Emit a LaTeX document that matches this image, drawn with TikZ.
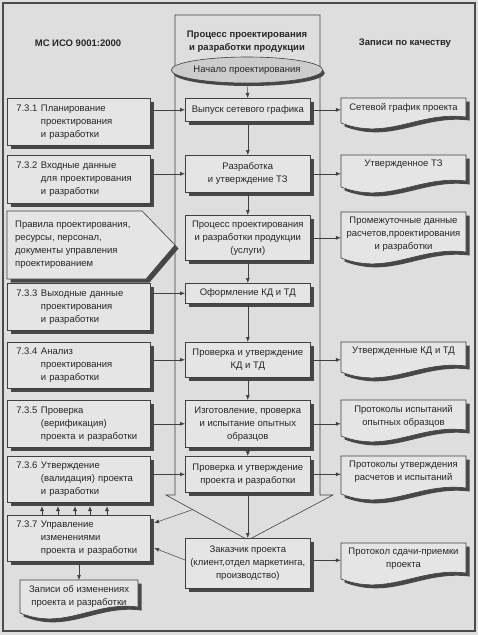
\documentclass[tikz,border=0pt]{standalone}
\usepackage{fontspec}
\setmainfont{Liberation Sans}
\usetikzlibrary{shadows,calc,arrows.meta,shapes.geometric}
\definecolor{bgc}{gray}{0.87}
\definecolor{boxc}{gray}{0.90}
\definecolor{linec}{gray}{0.25}
\newcommand\hangtxt[4]{\begin{tabular}{@{}l@{\hspace{3.5pt}}l@{}}#1&#2\\&#3\\&#4\end{tabular}}
\newcommand\docpath[4]{%
  \path[docst] (#1,#2) -- ({#1+#3},#2) -- ({#1+#3},{#2+#4-6}) .. controls ({#1+0.62*#3},{#2+#4-12}) and ({#1+0.38*#3},{#2+#4+18}) .. (#1,{#2+#4}) -- cycle;}
\tikzset{
  every node/.style={font=\fontsize{9.5}{13}\selectfont, text=black!85},
  sh/.style={drop shadow={shadow xshift=3.5pt, shadow yshift=-3.5pt, fill=black!72, opacity=1}},
  lbox/.style={draw=linec, line width=0.6pt, fill=boxc, sh, anchor=north west,
    text width=125pt, inner xsep=9pt, inner ysep=2pt, align=left},
  cbox/.style={draw=linec, line width=0.6pt, fill=boxc, sh, anchor=north west,
    minimum width=125pt, inner sep=2pt, align=center},
  docst/.style={draw=linec, line width=0.6pt, fill=boxc, sh},
  doctxt/.style={anchor=north, minimum width=125pt, inner xsep=2pt, inner ysep=5pt, align=center},
  hdr/.style={font=\fontsize{9.5}{13}\selectfont\bfseries, align=center},
  arr/.style={draw=linec, line width=0.5pt, -{Latex[length=5pt,width=4pt]}},
}
\begin{document}
\begin{tikzpicture}[x=1pt,y=-1pt]
\useasboundingbox (0,0) rectangle (478,635);
\fill[bgc] (0,0) rectangle (478,635);
\draw[line width=1.2pt, black!70] (3,3) rectangle (475,631);

% big column arrow
\draw[linec, line width=0.6pt] (175,15) -- (175,495) -- (166,495) -- (248,540) -- (333,495) -- (320,495) -- (320,15) -- cycle;
\coordinate (diag) at (193,509.5);

% headers
\node[hdr] (h1) at (78,43) {МС ИСО 9001:2000};
\node[hdr] (h2) at (247,42) {Процесс проектирования\\и разработки продукции};
\node[hdr] (h3) at (405,43) {Записи по качеству};

% start ellipse
\node[ellipse, draw=linec, line width=0.6pt, fill=black!20,
  drop shadow={shadow xshift=2pt, shadow yshift=-3pt, fill=black!72, opacity=1},
  minimum width=143pt, minimum height=26pt, inner sep=0pt] (start) at (247,70) {Начало проектирования};

% left column
\node[lbox, minimum height=47pt] (l1) at (7,98) {\hangtxt{7.3.1}{Планирование}{проектирования}{и разработки}};
\node[lbox, minimum height=48pt] (l2) at (7,155) {\hangtxt{7.3.2}{Входные данные}{для проектирования}{и разработки}};
\path[draw=linec, line width=0.6pt, fill=boxc, sh] (7,211) -- (142,211) -- (175,245) -- (146,279) -- (7,279) -- cycle;
\node[anchor=west, align=left, inner sep=0pt] (rules) at (15,245) {Правила проектирования,\\ресурсы, персонал,\\документы управления\\проектированием};
\node[lbox, minimum height=47pt] (l3) at (7,283) {\hangtxt{7.3.3}{Выходные данные}{проектирования}{и разработки}};
\node[lbox, minimum height=46pt] (l4) at (7,342) {\hangtxt{7.3.4}{Анализ}{проектирования}{и разработки}};
\node[lbox, minimum height=47pt] (l5) at (7,400) {\hangtxt{7.3.5}{Проверка}{(верификация)}{проекта и разработки}};
\node[lbox, minimum height=46pt] (l6) at (7,456) {\hangtxt{7.3.6}{Утверждение}{(валидация) проекта}{и разработки}};
\node[lbox, minimum height=46pt] (l7) at (7,515) {\hangtxt{7.3.7}{Управление}{изменениями}{проекта и разработки}};
\docpath{20}{580}{118}{33}
\node[doctxt, minimum width=118pt] (ld) at (79,580) {Записи об изменениях\\проекта и разработки};

% center column
\node[cbox, minimum height=23pt] (c1) at (185,98) {Выпуск сетевого графика};
\node[cbox, minimum height=37pt] (c2) at (185,155) {Разработка\\и утверждение ТЗ};
\node[cbox, minimum height=45pt] (c3) at (185,215) {Процесс проектирования\\и разработки продукции\\(услуги)};
\node[cbox, minimum height=20pt] (c4) at (185,283) {Оформление КД и ТД};
\node[cbox, minimum height=35pt] (c5) at (185,342) {Проверка и утверждение\\КД и ТД};
\node[cbox, minimum height=47pt] (c6) at (185,400) {Изготовление, проверка\\и испытание опытных\\образцов};
\node[cbox, minimum height=36pt] (c7) at (185,456) {Проверка и утверждение\\проекта и разработки};
\node[cbox, minimum height=50pt] (c8) at (185,538) {Заказчик проекта\\(клиент,отдел маркетинга,\\производство)};

% right column documents
\docpath{341}{98}{125}{25}
\node[doctxt] (r1) at (403.5,98) {Сетевой график проекта};
\docpath{341}{155}{125}{32}
\node[doctxt] (r2) at (403.5,155) {Утвержденное ТЗ};
\docpath{341}{212}{125}{46}
\node[doctxt] (r3) at (403.5,212) {Промежуточные данные\\расчетов,проектирования\\и разработки};
\docpath{341}{342}{125}{30}
\node[doctxt] (r4) at (403.5,342) {Утвержденные КД и ТД};
\docpath{341}{400}{125}{36}
\node[doctxt] (r5) at (403.5,400) {Протоколы испытаний\\опытных образцов};
\docpath{341}{456}{125}{38}
\node[doctxt] (r6) at (403.5,456) {Протоколы утверждения\\расчетов и испытаний};
\docpath{341}{543}{125}{36}
\node[doctxt] (r7) at (403.5,543) {Протокол сдачи-приемки\\проекта};

% vertical arrows
\draw[arr] (start.south) -- (c1.north);
\draw[arr] (c1.south) -- (c2.north);
\draw[arr] (c2.south) -- (c3.north);
\draw[arr] (c3.south) -- (c4.north);
\draw[arr] (c4.south) -- (c5.north);
\draw[arr] (c5.south) -- (c6.north);
\draw[arr] (c6.south) -- (c7.north);
\draw[arr] (c7.south) -- (c8.north);

% left to center
\draw[arr] ($(c1.west -| l1.east)+(3.5,0)$) -- (c1.west);
\draw[arr] ($(c2.west -| l2.east)+(3.5,0)$) -- (c2.west);
\draw[arr] ($(c4.west -| l3.east)+(3.5,0)$) -- (c4.west);
\draw[arr] ($(c5.west -| l4.east)+(3.5,0)$) -- (c5.west);
\draw[arr] ($(c6.west -| l5.east)+(3.5,0)$) -- (c6.west);
\draw[arr] ($(c7.west -| l6.east)+(3.5,0)$) -- (c7.west);

% center to right
\draw[arr] ($(c1.east)+(3.5,0)$) -- (c1.east -| r1.west);
\draw[arr] ($(c2.east)+(3.5,0)$) -- (c2.east -| r2.west);
\draw[arr] ($(c3.east)+(3.5,0)$) -- (c3.east -| r3.west);
\draw[arr] ($(c5.east)+(3.5,0)$) -- (c5.east -| r4.west);
\draw[arr] ($(c6.east)+(3.5,0)$) -- (c6.east -| r5.west);
\draw[arr] ($(c7.east)+(3.5,0)$) -- (c7.east -| r6.west);
\draw[arr] ($(c8.east)+(3.5,-3)$) -- ($(c8.east -| r7.west)+(0,-3)$);

% to 7.3.7
\draw[arr] (diag) -- ($(l7.north east)+(3.5,8)$);
\draw[arr] ($(c8.north west)+(0,22)$) -- ($(l7.north east)+(3.5,33)$);
\draw[arr] (ld.north |- l7.south) -- (ld.north);

% small arrows 7.3.7 -> 7.3.6
\foreach \dx in {35,51,68,83,100}{
  \draw[arr] ($(l7.north west)+(\dx,0)$) -- ($(l6.south west)+(\dx,3.5)$);
}
\end{tikzpicture}
\end{document}
